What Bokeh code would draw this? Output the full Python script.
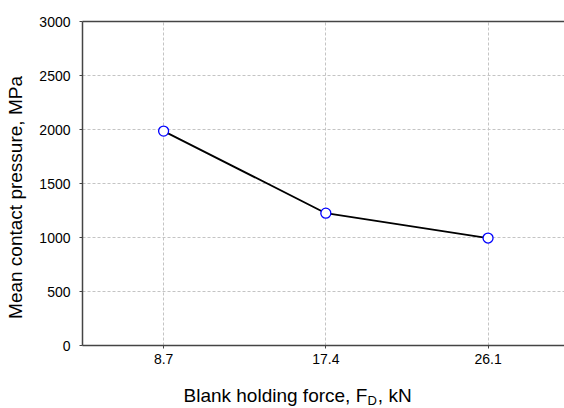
import math
from bokeh.plotting import figure
from bokeh.models import Range1d, FixedTicker, LinearAxis, Label, ColumnDataSource
from bokeh.embed import file_html
from bokeh.resources import INLINE

# data
force_kn = [8.7, 17.4, 26.1]
pressure_mpa = [1985, 1225, 995]
x_ticks = [8.7, 17.4, 26.1]
y_ticks = [0, 500, 1000, 1500, 2000, 2500, 3000]
y_label = "Mean contact pressure, MPa"
x_label_main = "Blank holding force, F\u00a0\u00a0, kN"
x_label_sub = "D"

FONT = "Liberation Sans"
AX = "#444444"

p = figure(width=564, height=408, output_backend="svg", toolbar_location=None,
           x_range=Range1d(4.35, 30.2), y_range=Range1d(0, 3000),
           min_border_left=82, min_border_right=0, min_border_top=21, min_border_bottom=63)
p.background_fill_color = "white"
p.border_fill_color = "white"
p.outline_line_color = None

for ax in (p.xaxis[0], p.yaxis[0]):
    ax.axis_line_color = AX
    ax.axis_line_width = 1.5
    ax.major_tick_line_color = AX
    ax.major_tick_out = 3
    ax.major_tick_in = 0
    ax.minor_tick_line_color = None
    ax.major_label_text_font = FONT
    ax.major_label_text_font_size = "14px"
    ax.major_label_text_color = "black"

p.xaxis[0].ticker = FixedTicker(ticks=x_ticks)
p.xaxis[0].major_label_overrides = {t: str(t) for t in x_ticks}
p.xaxis[0].major_label_standoff = 5
p.yaxis[0].ticker = FixedTicker(ticks=y_ticks)
p.yaxis[0].major_label_standoff = 9

top = LinearAxis(ticker=FixedTicker(ticks=[]), axis_line_color=AX, axis_line_width=1.5,
                 major_tick_line_color=None, minor_tick_line_color=None,
                 major_label_text_font_size="0px")
p.add_layout(top, "above")

p.xgrid.ticker = FixedTicker(ticks=x_ticks)
p.ygrid.ticker = FixedTicker(ticks=y_ticks)
for g in (p.xgrid[0], p.ygrid[0]):
    g.grid_line_color = "#c4c4c4"
    g.grid_line_dash = "3 2"
    g.grid_line_width = 1

src = ColumnDataSource(dict(x=force_kn, y=pressure_mpa))
p.line("x", "y", source=src, line_color="black", line_width=1.8)
p.scatter("x", "y", source=src, size=10, marker="circle", fill_color="white",
          line_color="#0000ff", line_width=1.3)

p.add_layout(Label(x=0, y=148, x_units="screen", y_units="screen", text=y_label,
                   angle=math.pi / 2, text_align="center", text_baseline="alphabetic",
                   text_font=FONT, text_font_size="19px", text_color="black"), "left")
p.add_layout(Label(x=101, y=-8, x_units="screen", y_units="screen", text=x_label_main,
                   text_align="left", text_baseline="alphabetic",
                   text_font=FONT, text_font_size="19px", text_color="black"), "below")
p.add_layout(Label(x=285, y=2, x_units="screen", y_units="screen", text=x_label_sub,
                   text_align="left", text_baseline="alphabetic",
                   text_font=FONT, text_font_size="13px", text_color="black"), "below")

open("out.html", "w").write(file_html(p, INLINE))
